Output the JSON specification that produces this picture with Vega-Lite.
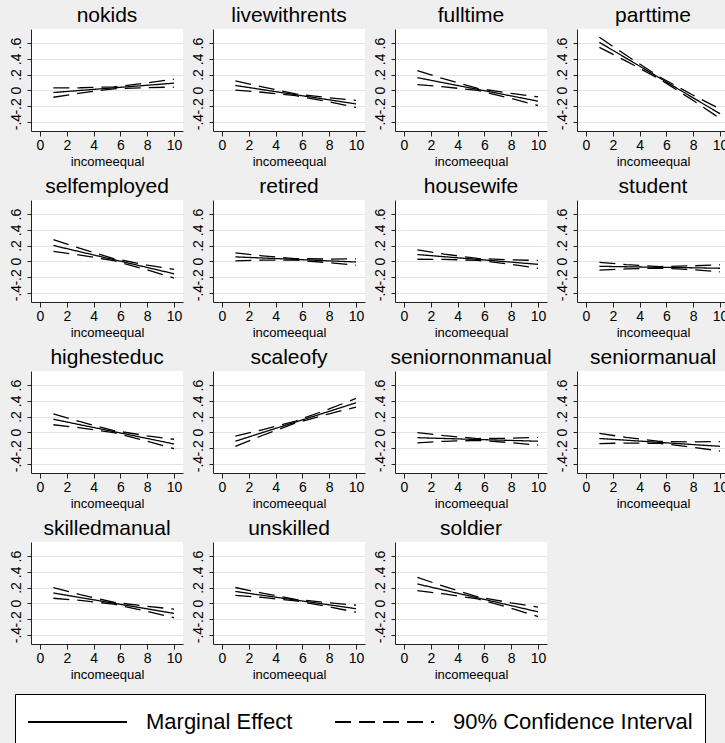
{
  "$schema": "https://vega.github.io/schema/vega-lite/v6.json",
  "background": "#efefef",
  "padding": {"left": 8, "right": 4, "top": 5, "bottom": 0},
  "data": {"values": [
    {"p":"nokids","x":1,"me":-0.03,"hi":0.03,"lo":-0.09},
    {"p":"nokids","x":3,"me":-0.003,"hi":0.031,"lo":-0.037},
    {"p":"nokids","x":5.5,"me":0.03,"hi":0.042,"lo":0.018},
    {"p":"nokids","x":8,"me":0.063,"hi":0.093,"lo":0.033},
    {"p":"nokids","x":10,"me":0.09,"hi":0.14,"lo":0.04},
    {"p":"livewithrents","x":1,"me":0.06,"hi":0.12,"lo":0.0},
    {"p":"livewithrents","x":3,"me":0.008,"hi":0.042,"lo":-0.026},
    {"p":"livewithrents","x":5.5,"me":-0.058,"hi":-0.046,"lo":-0.07},
    {"p":"livewithrents","x":8,"me":-0.123,"hi":-0.097,"lo":-0.149},
    {"p":"livewithrents","x":10,"me":-0.175,"hi":-0.13,"lo":-0.22},
    {"p":"fulltime","x":1,"me":0.16,"hi":0.25,"lo":0.07},
    {"p":"fulltime","x":3,"me":0.093,"hi":0.143,"lo":0.043},
    {"p":"fulltime","x":5.5,"me":0.01,"hi":0.023,"lo":-0.003},
    {"p":"fulltime","x":8,"me":-0.073,"hi":-0.041,"lo":-0.105},
    {"p":"fulltime","x":10,"me":-0.14,"hi":-0.085,"lo":-0.195},
    {"p":"parttime","x":1,"me":0.61,"hi":0.675,"lo":0.545},
    {"p":"parttime","x":3,"me":0.408,"hi":0.445,"lo":0.371},
    {"p":"parttime","x":5.5,"me":0.155,"hi":0.168,"lo":0.142},
    {"p":"parttime","x":8,"me":-0.098,"hi":-0.064,"lo":-0.132},
    {"p":"parttime","x":10,"me":-0.3,"hi":-0.24,"lo":-0.36},
    {"p":"selfemployed","x":1,"me":0.2,"hi":0.275,"lo":0.125},
    {"p":"selfemployed","x":3,"me":0.12,"hi":0.162,"lo":0.078},
    {"p":"selfemployed","x":5.5,"me":0.02,"hi":0.033,"lo":0.007},
    {"p":"selfemployed","x":8,"me":-0.08,"hi":-0.049,"lo":-0.111},
    {"p":"selfemployed","x":10,"me":-0.16,"hi":-0.105,"lo":-0.215},
    {"p":"retired","x":1,"me":0.055,"hi":0.105,"lo":0.005},
    {"p":"retired","x":3,"me":0.041,"hi":0.069,"lo":0.013},
    {"p":"retired","x":5.5,"me":0.023,"hi":0.033,"lo":0.013},
    {"p":"retired","x":8,"me":0.004,"hi":0.027,"lo":-0.019},
    {"p":"retired","x":10,"me":-0.01,"hi":0.03,"lo":-0.05},
    {"p":"housewife","x":1,"me":0.085,"hi":0.145,"lo":0.025},
    {"p":"housewife","x":3,"me":0.057,"hi":0.091,"lo":0.023},
    {"p":"housewife","x":5.5,"me":0.023,"hi":0.035,"lo":0.011},
    {"p":"housewife","x":8,"me":-0.012,"hi":0.016,"lo":-0.04},
    {"p":"housewife","x":10,"me":-0.04,"hi":0.01,"lo":-0.09},
    {"p":"student","x":1,"me":-0.065,"hi":-0.015,"lo":-0.115},
    {"p":"student","x":3,"me":-0.071,"hi":-0.043,"lo":-0.099},
    {"p":"student","x":5.5,"me":-0.078,"hi":-0.068,"lo":-0.088},
    {"p":"student","x":8,"me":-0.084,"hi":-0.059,"lo":-0.109},
    {"p":"student","x":10,"me":-0.09,"hi":-0.045,"lo":-0.135},
    {"p":"highesteduc","x":1,"me":0.165,"hi":0.235,"lo":0.095},
    {"p":"highesteduc","x":3,"me":0.095,"hi":0.134,"lo":0.056},
    {"p":"highesteduc","x":5.5,"me":0.008,"hi":0.021,"lo":-0.006},
    {"p":"highesteduc","x":8,"me":-0.08,"hi":-0.046,"lo":-0.114},
    {"p":"highesteduc","x":10,"me":-0.15,"hi":-0.09,"lo":-0.21},
    {"p":"scaleofy","x":1,"me":-0.115,"hi":-0.05,"lo":-0.18},
    {"p":"scaleofy","x":3,"me":-0.006,"hi":0.03,"lo":-0.042},
    {"p":"scaleofy","x":5.5,"me":0.13,"hi":0.142,"lo":0.118},
    {"p":"scaleofy","x":8,"me":0.266,"hi":0.297,"lo":0.235},
    {"p":"scaleofy","x":10,"me":0.375,"hi":0.43,"lo":0.32},
    {"p":"seniornonmanual","x":1,"me":-0.07,"hi":-0.005,"lo":-0.135},
    {"p":"seniornonmanual","x":3,"me":-0.08,"hi":-0.044,"lo":-0.116},
    {"p":"seniornonmanual","x":5.5,"me":-0.093,"hi":-0.081,"lo":-0.105},
    {"p":"seniornonmanual","x":8,"me":-0.105,"hi":-0.077,"lo":-0.133},
    {"p":"seniornonmanual","x":10,"me":-0.115,"hi":-0.065,"lo":-0.165},
    {"p":"seniormanual","x":1,"me":-0.08,"hi":-0.015,"lo":-0.145},
    {"p":"seniormanual","x":3,"me":-0.102,"hi":-0.066,"lo":-0.138},
    {"p":"seniormanual","x":5.5,"me":-0.13,"hi":-0.118,"lo":-0.142},
    {"p":"seniormanual","x":8,"me":-0.158,"hi":-0.124,"lo":-0.192},
    {"p":"seniormanual","x":10,"me":-0.18,"hi":-0.12,"lo":-0.24},
    {"p":"skilledmanual","x":1,"me":0.13,"hi":0.197,"lo":0.063},
    {"p":"skilledmanual","x":3,"me":0.072,"hi":0.109,"lo":0.035},
    {"p":"skilledmanual","x":5.5,"me":0.0,"hi":0.012,"lo":-0.012},
    {"p":"skilledmanual","x":8,"me":-0.072,"hi":-0.041,"lo":-0.103},
    {"p":"skilledmanual","x":10,"me":-0.13,"hi":-0.075,"lo":-0.185},
    {"p":"unskilled","x":1,"me":0.15,"hi":0.2,"lo":0.1},
    {"p":"unskilled","x":3,"me":0.101,"hi":0.129,"lo":0.073},
    {"p":"unskilled","x":5.5,"me":0.04,"hi":0.05,"lo":0.03},
    {"p":"unskilled","x":8,"me":-0.021,"hi":0.004,"lo":-0.046},
    {"p":"unskilled","x":10,"me":-0.07,"hi":-0.025,"lo":-0.115},
    {"p":"soldier","x":1,"me":0.245,"hi":0.33,"lo":0.16},
    {"p":"soldier","x":3,"me":0.166,"hi":0.213,"lo":0.119},
    {"p":"soldier","x":5.5,"me":0.068,"hi":0.082,"lo":0.054},
    {"p":"soldier","x":8,"me":-0.031,"hi":0.003,"lo":-0.065},
    {"p":"soldier","x":10,"me":-0.11,"hi":-0.05,"lo":-0.17}
  ]},
  "facet": {
    "field": "p", "type": "nominal",
    "sort": ["nokids","livewithrents","fulltime","parttime","selfemployed","retired","housewife","student","highesteduc","scaleofy","seniornonmanual","seniormanual","skilledmanual","unskilled","soldier"],
    "header": {"title": null, "labelFont": "Liberation Sans", "labelFontSize": 21, "labelColor": "black", "labelPadding": 3}
  },
  "columns": 4,
  "bounds": "flush",
  "spacing": {"column": 30, "row": 69},
  "spec": {
    "width": 152,
    "height": 102,
    "layer": [
      {
        "mark": {"type": "line", "color": "black", "strokeWidth": 1.3},
        "encoding": {
          "x": {"field": "x", "type": "quantitative", "scale": {"domain": [-0.67, 10.67], "nice": false, "zero": false},
                "axis": {"values": [0,2,4,6,8,10], "tickCount": 20, "format": "d", "title": "incomeequal", "labelOverlap": false}},
          "y": {"field": "me", "type": "quantitative", "scale": {"domain": [-0.52, 0.78], "nice": false, "zero": false},
                "axis": {"values": [-0.4,-0.2,0,0.2,0.4,0.6], "tickCount": 20, "title": null, "grid": true, "labelOverlap": false, "labelAngle": -90, "labelAlign": "center", "labelBaseline": "bottom",
                         "labelExpr": "replace(replace(format(datum.value, '.1~f'), '0.', '.'), '\u2212', '-')"}},
          "strokeDash": {"datum": "Marginal Effect", "type": "nominal",
                "scale": {"domain": ["Marginal Effect", "90% Confidence Interval"], "range": [[1, 0], [16, 8]]},
                "legend": {"title": null}}
        }
      },
      {
        "transform": [{"fold": ["hi", "lo"], "as": ["b", "v"]}],
        "mark": {"type": "line", "color": "black", "strokeWidth": 1.3},
        "encoding": {
          "x": {"field": "x", "type": "quantitative"},
          "y": {"field": "v", "type": "quantitative"},
          "detail": {"field": "b", "type": "nominal"},
          "strokeDash": {"datum": "90% Confidence Interval", "type": "nominal"}
        }
      }
    ]
  },
  "resolve": {"axis": {"x": "independent", "y": "independent"}},
  "config": {
    "view": {"stroke": null, "fill": "white"},
    "font": "Liberation Sans",
    "axis": {
      "labelFont": "Liberation Sans", "titleFont": "Liberation Sans",
      "labelFontSize": 14, "titleFontSize": 13, "titleFontWeight": "normal",
      "labelColor": "black", "titleColor": "black",
      "domainColor": "#222222", "tickColor": "#222222", "tickSize": 5,
      "gridColor": "#e4e4e4", "labelPadding": 2, "titlePadding": 3, "labelOverlap": false
    },
    "axisX": {"grid": false},
    "axisY": {"labelPadding": 4, "tickSize": 4},
    "legend": {
      "orient": "none", "legendX": -16, "legendY": 665, "direction": "horizontal",
      "symbolType": "M-1,0H5.6", "symbolSize": 900, "symbolStrokeWidth": 1.8, "symbolStrokeColor": "black",
      "labelFont": "Liberation Sans", "labelFontSize": 22, "labelColor": "black", "labelOffset": 87, "labelLimit": 400,
      "columnPadding": 38, "strokeColor": "black", "fillColor": "white", "padding": 12
    }
  }
}
